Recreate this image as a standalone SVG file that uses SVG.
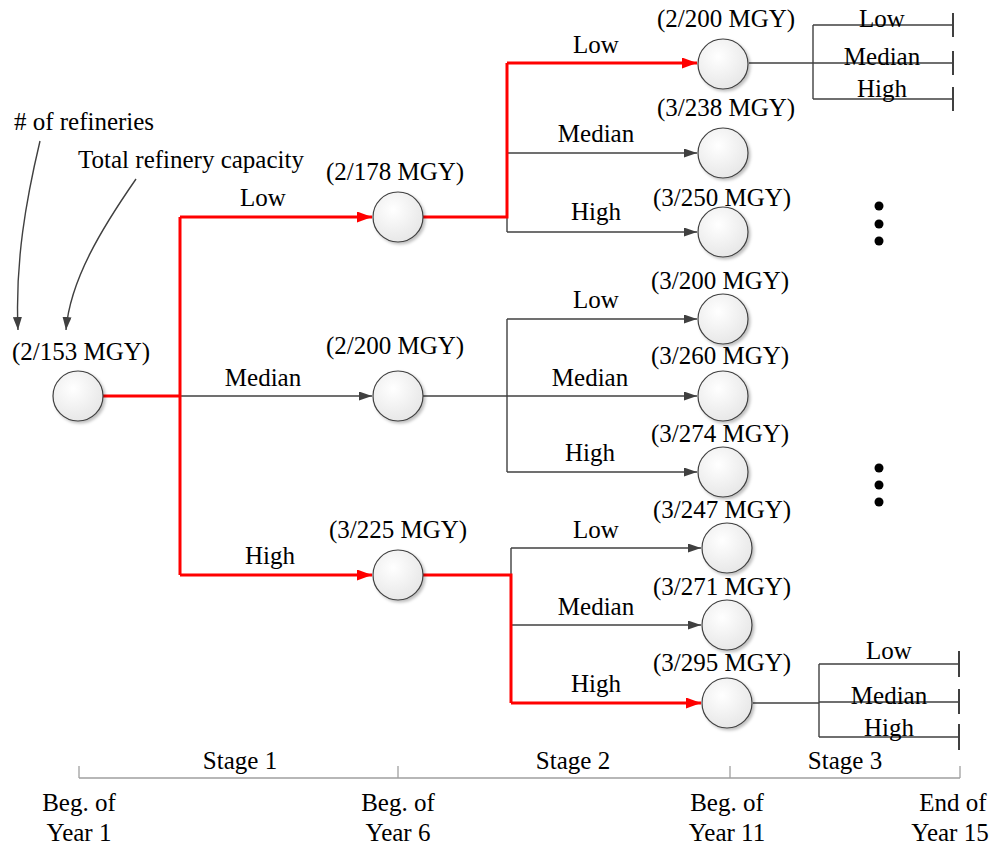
<svg xmlns="http://www.w3.org/2000/svg" width="995" height="848" viewBox="0 0 995 848">
<style>
text{font-family:'Liberation Serif','Times New Roman',serif;font-size:25px;fill:#000;text-anchor:middle}
.g{stroke:#404040;stroke-width:1.4;fill:none}
.r{stroke:#ff0000;stroke-width:3;fill:none}
.ga{marker-end:url(#ag)}
.ra{marker-end:url(#ar)}
.tk{stroke:#404040;stroke-width:2;fill:none}
.tl{stroke:#a0a0a0;stroke-width:1.3;fill:none}
.nd{fill:url(#cg);stroke:#404040;stroke-width:1.2;filter:url(#sh)}
.dot{fill:#000}
</style>
<defs>
<radialGradient id="cg" cx="0.4" cy="0.35" r="0.7">
<stop offset="0" stop-color="#ffffff"/>
<stop offset="1" stop-color="#e6e6e6"/>
</radialGradient>
<filter id="sh" x="-30%" y="-30%" width="160%" height="160%">
<feDropShadow dx="2" dy="2" stdDeviation="1.5" flood-color="#000" flood-opacity="0.25"/>
</filter>
<marker id="ag" markerUnits="userSpaceOnUse" markerWidth="13" markerHeight="9" refX="13" refY="4.5" orient="auto">
<path d="M0,0 L13,4.5 L0,9 z" fill="#404040"/>
</marker>
<marker id="ar" markerUnits="userSpaceOnUse" markerWidth="15" markerHeight="11" refX="15" refY="5.5" orient="auto">
<path d="M0,0 L15,5.5 L0,11 z" fill="#ff0000"/>
</marker>
</defs>

<g id="connectors">
<path class="g ga" d="M180,396 H372"/>
<path class="r" d="M103,396 H180"/>
<path class="r" d="M180,575 V217"/>
<path class="r ra" d="M180,217 H372"/>
<path class="r ra" d="M180,575 H372"/>
<path class="g" d="M507,63 V232"/>
<path class="g ga" d="M507,153 H697"/>
<path class="g ga" d="M507,232 H697"/>
<path class="r" d="M423,217 H507 V63"/>
<path class="r ra" d="M507,63 H697"/>
<path class="g" d="M423,396 H507"/>
<path class="g" d="M507,319 V472"/>
<path class="g ga" d="M507,319 H697"/>
<path class="g ga" d="M507,396 H697"/>
<path class="g ga" d="M507,472 H697"/>
<path class="g" d="M511,548 V575"/>
<path class="g ga" d="M511,548 H701"/>
<path class="g ga" d="M511,625 H701"/>
<path class="r" d="M423,575 H511 V703"/>
<path class="r ra" d="M511,703 H701"/>
<path class="g" d="M749,63 H813"/>
<path class="g" d="M813,25 V99"/>
<path class="g" d="M813,25 H953 M813,63 H953 M813,99 H953"/>
<path class="tk" d="M953,13 V37 M953,51 V75 M953,87 V111"/>
<path class="g" d="M753,703 H819"/>
<path class="g" d="M819,664 V737"/>
<path class="g" d="M819,664 H959 M819,702 H959 M819,737 H959"/>
<path class="tk" d="M959,651 V677 M959,689 V714 M959,724 V750"/>
<path class="g ga" d="M40,141 C26,200 15,262 18,330"/>
<path class="g ga" d="M136,179 C102,228 70,280 66,330"/>
</g>

<g id="n0"><circle class="nd" cx="78" cy="396" r="25"/><text x="81" y="360">(2/153 MGY)</text></g>
<g id="n1"><circle class="nd" cx="398" cy="217" r="25"/><text x="395" y="180">(2/178 MGY)</text></g>
<g id="n2"><circle class="nd" cx="398" cy="396" r="25"/><text x="395" y="354">(2/200 MGY)</text></g>
<g id="n3"><circle class="nd" cx="398" cy="575" r="25"/><text x="398" y="538">(3/225 MGY)</text></g>
<g id="n4"><circle class="nd" cx="723" cy="64" r="25"/><text x="726" y="27">(2/200 MGY)</text></g>
<g id="n5"><circle class="nd" cx="723" cy="153" r="25"/><text x="726" y="116">(3/238 MGY)</text></g>
<g id="n6"><circle class="nd" cx="723" cy="232" r="25"/><text x="722" y="206">(3/250 MGY)</text></g>
<g id="n7"><circle class="nd" cx="723" cy="319" r="25"/><text x="720" y="289">(3/200 MGY)</text></g>
<g id="n8"><circle class="nd" cx="723" cy="396" r="25"/><text x="720" y="364">(3/260 MGY)</text></g>
<g id="n9"><circle class="nd" cx="723" cy="472" r="25"/><text x="720" y="442">(3/274 MGY)</text></g>
<g id="n10"><circle class="nd" cx="727" cy="548" r="25"/><text x="722" y="518">(3/247 MGY)</text></g>
<g id="n11"><circle class="nd" cx="727" cy="625" r="25"/><text x="722" y="595">(3/271 MGY)</text></g>
<g id="n12"><circle class="nd" cx="727" cy="703" r="25"/><text x="722" y="671">(3/295 MGY)</text></g>

<g id="labels">
<text x="263" y="206">Low</text>
<text x="263" y="386">Median</text>
<text x="270" y="564">High</text>
<text x="596" y="53">Low</text>
<text x="596" y="142">Median</text>
<text x="596" y="220">High</text>
<text x="596" y="308">Low</text>
<text x="590" y="386">Median</text>
<text x="590" y="461">High</text>
<text x="596" y="538">Low</text>
<text x="596" y="615">Median</text>
<text x="596" y="692">High</text>
<text x="882" y="27">Low</text>
<text x="882" y="65">Median</text>
<text x="882" y="97">High</text>
<text x="889" y="659">Low</text>
<text x="889" y="704">Median</text>
<text x="889" y="736">High</text>
<text x="84" y="130"># of refineries</text>
<text x="191" y="168">Total refinery capacity</text>
</g>

<g id="dots">
<circle class="dot" cx="879" cy="206" r="4.5"/>
<circle class="dot" cx="879" cy="224" r="4.5"/>
<circle class="dot" cx="879" cy="241" r="4.5"/>
<circle class="dot" cx="879" cy="468" r="4.5"/>
<circle class="dot" cx="879" cy="485" r="4.5"/>
<circle class="dot" cx="879" cy="502" r="4.5"/>
</g>

<g id="timeline">
<path class="tl" d="M79,778 H960 M79,766 V778 M398,766 V778 M730,766 V778 M960,766 V778"/>
<text x="240" y="769">Stage 1</text>
<text x="573" y="769">Stage 2</text>
<text x="845" y="769">Stage 3</text>
<text x="79" y="811">Beg. of</text>
<text x="79" y="841">Year 1</text>
<text x="398" y="811">Beg. of</text>
<text x="398" y="841">Year 6</text>
<text x="727" y="811">Beg. of</text>
<text x="727" y="841">Year 11</text>
<text x="953" y="811">End of</text>
<text x="950" y="841">Year 15</text>
</g>
</svg>
